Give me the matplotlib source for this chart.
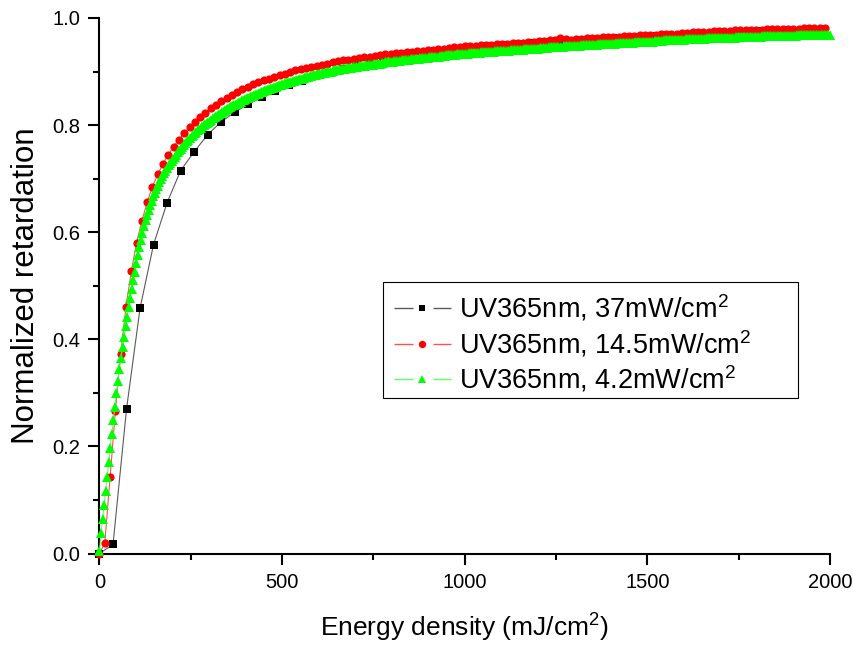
import matplotlib
matplotlib.use("Agg")
import matplotlib.pyplot as plt
from matplotlib.lines import Line2D
from matplotlib.patches import Rectangle
from matplotlib.ticker import MultipleLocator, FormatStrFormatter
import numpy as np

plt.rcParams['font.family'] = ['Liberation Sans', 'DejaVu Sans']
plt.rcParams['mathtext.fontset'] = 'custom'
plt.rcParams['mathtext.rm'] = 'Liberation Sans'
plt.rcParams['mathtext.it'] = 'Liberation Sans:italic'
plt.rcParams['lines.scale_dashes'] = False

# UV intensities (mW/cm^2); one reading per second, so dose step = intensity
intensities = [37.0, 14.5, 4.2]
labels = ['UV365nm, 37mW/cm$^2$', 'UV365nm, 14.5mW/cm$^2$', 'UV365nm, 4.2mW/cm$^2$']

# normalized retardation, 37 mW/cm^2
ret_37 = [
    0.000, 0.017, 0.270, 0.458, 0.577, 0.655, 0.715, 0.750, 0.782, 0.806,
    0.824, 0.839, 0.853, 0.864, 0.874, 0.883, 0.891, 0.898, 0.905, 0.911,
    0.917, 0.922, 0.926, 0.930, 0.934, 0.937, 0.940, 0.943, 0.945, 0.947,
    0.949, 0.951, 0.953, 0.955, 0.957, 0.957, 0.959, 0.960, 0.962, 0.963,
    0.965, 0.966, 0.967, 0.968, 0.970, 0.971, 0.972, 0.974, 0.975, 0.975,
    0.976, 0.977, 0.978, 0.978,
]

# normalized retardation, 14.5 mW/cm^2
ret_145 = [
    0.000, 0.020, 0.143, 0.266, 0.373, 0.460, 0.527, 0.580, 0.621, 0.656,
    0.685, 0.708, 0.728, 0.745, 0.760, 0.773, 0.785, 0.796, 0.806, 0.815,
    0.823, 0.831, 0.838, 0.845, 0.851, 0.857, 0.862, 0.867, 0.872, 0.876,
    0.880, 0.884, 0.887, 0.890, 0.893, 0.896, 0.899, 0.902, 0.905, 0.907,
    0.909, 0.911, 0.913, 0.915, 0.917, 0.919, 0.921, 0.922, 0.924, 0.925,
    0.927, 0.928, 0.929, 0.931, 0.932, 0.933, 0.934, 0.935, 0.936, 0.937,
    0.938, 0.939, 0.940, 0.941, 0.942, 0.943, 0.944, 0.945, 0.946, 0.947,
    0.948, 0.948, 0.949, 0.950, 0.950, 0.951, 0.952, 0.952, 0.953, 0.954,
    0.954, 0.955, 0.956, 0.957, 0.957, 0.958, 0.959, 0.962, 0.961, 0.959,
    0.960, 0.961, 0.962, 0.962, 0.963, 0.964, 0.964, 0.965, 0.965, 0.966,
    0.967, 0.967, 0.968, 0.968, 0.969, 0.969, 0.970, 0.970, 0.971, 0.971,
    0.972, 0.972, 0.973, 0.973, 0.974, 0.974, 0.975, 0.975, 0.976, 0.976,
    0.977, 0.977, 0.977, 0.978, 0.978, 0.978, 0.979, 0.979, 0.979, 0.980,
    0.980, 0.980, 0.980, 0.981, 0.981, 0.981, 0.981, 0.982,
]

# normalized retardation, 4.2 mW/cm^2
ret_42 = [
    0.005, 0.038, 0.064, 0.090, 0.116, 0.143, 0.170, 0.197, 0.223, 0.249,
    0.274, 0.299, 0.323, 0.345, 0.366, 0.386, 0.405, 0.424, 0.442, 0.460,
    0.477, 0.494, 0.510, 0.526, 0.542, 0.557, 0.572, 0.586, 0.599, 0.611,
    0.623, 0.633, 0.642, 0.651, 0.659, 0.667, 0.674, 0.681, 0.687, 0.693,
    0.699, 0.705, 0.710, 0.715, 0.720, 0.725, 0.729, 0.733, 0.737, 0.741,
    0.745, 0.749, 0.753, 0.756, 0.760, 0.763, 0.767, 0.770, 0.773, 0.776,
    0.779, 0.782, 0.785, 0.787, 0.790, 0.793, 0.795, 0.798, 0.800, 0.802,
    0.804, 0.806, 0.808, 0.810, 0.813, 0.815, 0.817, 0.819, 0.821, 0.823,
    0.825, 0.827, 0.828, 0.830, 0.832, 0.834, 0.835, 0.837, 0.838, 0.840,
    0.841, 0.843, 0.844, 0.846, 0.847, 0.848, 0.850, 0.851, 0.853, 0.854,
    0.855, 0.856, 0.858, 0.859, 0.860, 0.861, 0.862, 0.864, 0.865, 0.866,
    0.867, 0.868, 0.869, 0.870, 0.871, 0.872, 0.873, 0.874, 0.875, 0.876,
    0.877, 0.878, 0.879, 0.880, 0.880, 0.881, 0.882, 0.883, 0.884, 0.885,
    0.886, 0.887, 0.887, 0.888, 0.889, 0.890, 0.890, 0.891, 0.892, 0.893,
    0.893, 0.894, 0.895, 0.895, 0.896, 0.897, 0.897, 0.898, 0.899, 0.899,
    0.900, 0.900, 0.901, 0.902, 0.902, 0.903, 0.903, 0.904, 0.904, 0.905,
    0.905, 0.906, 0.906, 0.907, 0.907, 0.908, 0.908, 0.909, 0.909, 0.910,
    0.910, 0.910, 0.911, 0.911, 0.912, 0.912, 0.913, 0.913, 0.913, 0.914,
    0.914, 0.915, 0.915, 0.915, 0.916, 0.916, 0.917, 0.917, 0.917, 0.918,
    0.918, 0.918, 0.919, 0.919, 0.920, 0.920, 0.920, 0.921, 0.921, 0.921,
    0.922, 0.922, 0.922, 0.923, 0.923, 0.923, 0.924, 0.924, 0.924, 0.925,
    0.925, 0.925, 0.926, 0.926, 0.926, 0.927, 0.927, 0.927, 0.927, 0.928,
    0.928, 0.928, 0.929, 0.929, 0.929, 0.929, 0.930, 0.930, 0.930, 0.931,
    0.931, 0.931, 0.931, 0.932, 0.932, 0.932, 0.932, 0.933, 0.933, 0.933,
    0.933, 0.934, 0.934, 0.934, 0.934, 0.935, 0.935, 0.935, 0.935, 0.936,
    0.936, 0.936, 0.936, 0.936, 0.937, 0.937, 0.937, 0.937, 0.938, 0.938,
    0.938, 0.938, 0.938, 0.939, 0.939, 0.939, 0.939, 0.939, 0.940, 0.940,
    0.940, 0.940, 0.941, 0.941, 0.941, 0.941, 0.941, 0.942, 0.942, 0.942,
    0.942, 0.942, 0.943, 0.943, 0.943, 0.943, 0.943, 0.944, 0.944, 0.944,
    0.944, 0.944, 0.944, 0.945, 0.945, 0.945, 0.945, 0.945, 0.946, 0.946,
    0.946, 0.946, 0.946, 0.947, 0.947, 0.947, 0.947, 0.947, 0.947, 0.948,
    0.948, 0.948, 0.948, 0.948, 0.949, 0.949, 0.949, 0.949, 0.949, 0.950,
    0.950, 0.950, 0.950, 0.950, 0.950, 0.951, 0.951, 0.951, 0.951, 0.951,
    0.951, 0.952, 0.952, 0.952, 0.952, 0.952, 0.952, 0.953, 0.953, 0.953,
    0.953, 0.953, 0.953, 0.954, 0.954, 0.954, 0.954, 0.954, 0.954, 0.955,
    0.955, 0.955, 0.955, 0.955, 0.955, 0.956, 0.956, 0.956, 0.956, 0.956,
    0.956, 0.956, 0.957, 0.957, 0.957, 0.957, 0.957, 0.957, 0.958, 0.958,
    0.958, 0.958, 0.958, 0.958, 0.958, 0.959, 0.959, 0.959, 0.959, 0.959,
    0.959, 0.959, 0.960, 0.960, 0.960, 0.960, 0.960, 0.960, 0.960, 0.961,
    0.961, 0.961, 0.961, 0.961, 0.961, 0.961, 0.962, 0.962, 0.962, 0.962,
    0.962, 0.962, 0.962, 0.962, 0.962, 0.963, 0.963, 0.963, 0.963, 0.963,
    0.963, 0.963, 0.963, 0.963, 0.963, 0.964, 0.964, 0.964, 0.964, 0.964,
    0.964, 0.964, 0.964, 0.965, 0.965, 0.965, 0.965, 0.965, 0.965, 0.965,
    0.965, 0.965, 0.966, 0.966, 0.966, 0.966, 0.966, 0.966, 0.966, 0.966,
    0.966, 0.966, 0.966, 0.967, 0.967, 0.967, 0.967, 0.967, 0.967, 0.967,
    0.967, 0.967, 0.967, 0.967, 0.967, 0.968, 0.968, 0.968, 0.968, 0.968,
    0.968, 0.968, 0.968, 0.968, 0.968, 0.968, 0.968, 0.968, 0.969, 0.969,
    0.969, 0.969, 0.969, 0.969, 0.969, 0.969, 0.969,
]

retardations = [ret_37, ret_145, ret_42]

# marker, marker colour, line colour, marker size (pt)
styles = [
    ('s', 'black', '#5a5a5a', 5.4),
    ('o', '#ff0000', '#ff5050', 5.9),
    ('^', '#00ff00', '#60ff60', 6.6),
]

fig = plt.figure(figsize=(8.54, 6.45), dpi=100)
ax = fig.add_axes([99.5 / 854, 1 - 553.5 / 645, 730.5 / 854, 535.5 / 645])

for z, (p, ret, st) in enumerate(zip(intensities, retardations, styles)):
    dose = np.arange(len(ret)) * p
    marker, mc, lc, ms = st
    ax.plot(dose, ret, color=lc, lw=0.8, marker=marker, ms=ms,
            mfc=mc, mec=mc, mew=0, zorder=2 + z, clip_on=False)

ax.set_xlim(0, 2000)
ax.set_ylim(0, 1.0)
ax.xaxis.set_major_locator(MultipleLocator(500))
ax.xaxis.set_minor_locator(MultipleLocator(250))
ax.yaxis.set_major_locator(MultipleLocator(0.2))
ax.yaxis.set_minor_locator(MultipleLocator(0.1))
ax.yaxis.set_major_formatter(FormatStrFormatter('%.1f'))

for side in ['top', 'right']:
    ax.spines[side].set_visible(False)
for side in ['left', 'bottom']:
    ax.spines[side].set_linewidth(1.5)

ax.tick_params(which='major', direction='out', length=8, width=1.5,
               labelsize=14.5, pad=6)
ax.tick_params(which='minor', direction='out', length=4.5, width=1.5)

ax.set_xlabel('Energy density (mJ/cm$^2$)', fontsize=19, labelpad=14)
ax.set_ylabel('Normalized retardation', fontsize=22.5, labelpad=8)

# legend entries: broken line with the marker in the gap
handles = []
for marker, mc, lc, ms in styles:
    seg = Line2D([], [], color=lc, lw=1.0, dashes=(13.7, 14.4))
    dot = Line2D([], [], ls='none', marker=marker, ms=ms - 0.6, mfc=mc, mec=mc, mew=0)
    handles.append((seg, dot))

# legend box is drawn separately: it has more room on the right than on the left
ax.add_patch(Rectangle((0.3881, 0.2904), 0.5681, 0.2166, transform=ax.transAxes,
                       facecolor='white', edgecolor='black', lw=0.8,
                       zorder=4.9, clip_on=False))
leg = ax.legend(handles, labels, loc='upper left', bbox_to_anchor=(0.388, 0.507),
                borderaxespad=0, fontsize=19.5, handlelength=2.1,
                handletextpad=0.3, labelspacing=0.17, borderpad=0.4,
                numpoints=1, frameon=False)

fig.savefig('out.png', dpi=100)
